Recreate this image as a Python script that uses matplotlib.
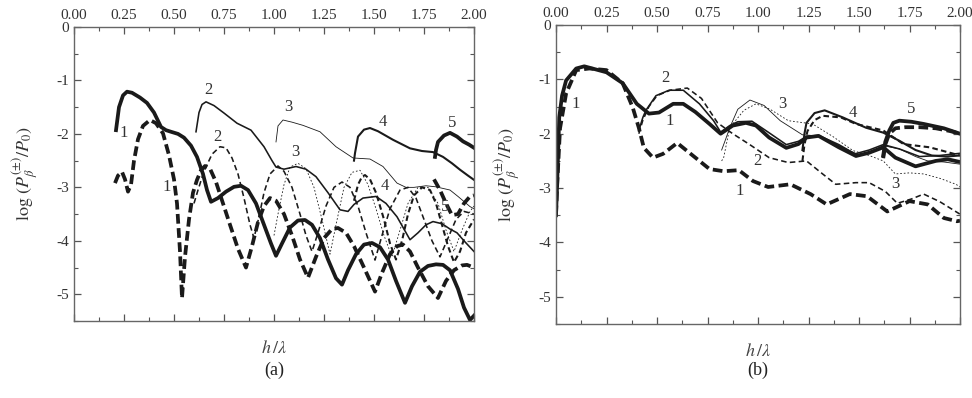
import matplotlib
matplotlib.use("Agg")
import matplotlib.pyplot as plt
from matplotlib.ticker import MultipleLocator

plt.rcParams['font.family'] = ['Liberation Serif', 'DejaVu Serif']
plt.rcParams['mathtext.fontset'] = 'stix'
plt.rcParams['axes.unicode_minus'] = False
plt.rcParams['lines.scale_dashes'] = False

# ---------- panel (a) ----------
a1p_x = [0.21, 0.225, 0.245, 0.265, 0.29, 0.33, 0.365, 0.40, 0.435, 0.46, 0.485, 0.52, 0.55, 0.585, 0.615, 0.645,
         0.665, 0.685, 0.72, 0.76, 0.80, 0.835, 0.87, 0.91, 0.95, 0.985, 1.01, 1.04, 1.08, 1.12, 1.155, 1.19, 1.23,
         1.27, 1.31, 1.34, 1.37, 1.41, 1.45, 1.49, 1.53, 1.57, 1.61, 1.655, 1.69, 1.73, 1.77, 1.81, 1.845, 1.88,
         1.92, 1.95, 1.98, 2.0]
a1p_y = [-1.93, -1.5, -1.28, -1.21, -1.23, -1.32, -1.42, -1.6, -1.87, -1.93, -1.96, -2.0, -2.07, -2.22, -2.43, -2.75,
         -3.05, -3.27, -3.2, -3.08, -2.99, -2.97, -3.05, -3.3, -3.7, -4.05, -4.28, -4.05, -3.75, -3.62, -3.61, -3.7,
         -3.95, -4.35, -4.7, -4.82, -4.55, -4.25, -4.07, -4.04, -4.12, -4.35, -4.75, -5.16, -4.85, -4.58, -4.47,
         -4.44, -4.45, -4.55, -4.9, -5.25, -5.48, -5.4]

a1m_x = [0.205, 0.22, 0.24, 0.255, 0.27, 0.285, 0.30, 0.32, 0.345, 0.38, 0.41, 0.445, 0.475, 0.50, 0.515, 0.53, 0.54,
         0.555, 0.575, 0.595, 0.615, 0.635, 0.655, 0.68, 0.71, 0.745, 0.78, 0.82, 0.86, 0.89, 0.92, 0.95, 0.98,
         1.01, 1.05, 1.09, 1.13, 1.17, 1.21, 1.25, 1.29, 1.32, 1.36, 1.40, 1.45, 1.505, 1.54, 1.58, 1.615, 1.645,
         1.68, 1.72, 1.77, 1.82, 1.86, 1.90, 1.94, 1.965, 2.0]
a1m_y = [-2.92, -2.78, -2.71, -2.85, -3.08, -2.95, -2.5, -2.1, -1.85, -1.74, -1.8, -1.99, -2.4, -2.85, -3.3, -4.2,
         -5.07, -4.3, -3.6, -3.1, -2.86, -2.68, -2.6, -2.65, -2.9, -3.3, -3.7, -4.15, -4.5, -4.1, -3.65, -3.35, -3.2,
         -3.25, -3.5, -3.9, -4.35, -4.69, -4.3, -3.95, -3.78, -3.76, -3.85, -4.1, -4.5, -4.95, -4.6, -4.25, -4.1,
         -4.07, -4.2, -4.5, -4.85, -5.07, -4.75, -4.55, -4.46, -4.45, -4.5]

a2p_x = [0.61, 0.625, 0.64, 0.66, 0.70, 0.75, 0.815, 0.885, 0.95, 0.99, 1.01, 1.05, 1.11, 1.16, 1.21, 1.27, 1.33,
         1.37, 1.40, 1.445, 1.51, 1.56, 1.615, 1.68, 1.72, 1.76, 1.795, 1.84, 1.88, 1.915, 1.95, 2.0]
a2p_y = [-1.96, -1.6, -1.45, -1.4, -1.47, -1.61, -1.8, -1.93, -2.24, -2.5, -2.62, -2.66, -2.61, -2.66, -2.8, -3.1,
         -3.42, -3.45, -3.32, -3.2, -3.17, -3.3, -3.55, -3.98, -3.85, -3.7, -3.64, -3.68, -3.78, -3.85, -4.0, -4.2]

a2m_x = [0.60, 0.62, 0.65, 0.69, 0.73, 0.76, 0.79, 0.82, 0.85, 0.88, 0.90, 0.925, 0.95, 0.98, 1.02, 1.05, 1.09,
         1.13, 1.16, 1.19, 1.22, 1.26, 1.30, 1.34, 1.38, 1.42, 1.46, 1.505, 1.54, 1.58, 1.63, 1.67, 1.71, 1.75,
         1.79, 1.83, 1.87, 1.91, 1.95, 2.0]
a2m_y = [-3.3, -3.05, -2.7, -2.38, -2.24, -2.26, -2.45, -2.75, -3.2, -3.7, -3.95, -3.55, -3.1, -2.75, -2.6, -2.7,
         -3.0, -3.5, -3.9, -4.2, -3.85, -3.35, -3.0, -2.9, -3.0, -3.35, -3.85, -4.36, -3.9, -3.4, -3.05, -3.0, -3.2,
         -3.6, -4.0, -4.3, -3.95, -3.6, -3.45, -3.5]

a3p_x = [1.01, 1.02, 1.045, 1.09, 1.145, 1.23, 1.31, 1.395, 1.48, 1.545, 1.615, 1.66, 1.7, 1.76, 1.81, 1.88, 1.92,
         1.98, 2.0]
a3p_y = [-2.15, -1.85, -1.74, -1.78, -1.84, -1.96, -2.24, -2.45, -2.47, -2.61, -2.92, -3.0, -3.0, -2.97, -2.99,
         -3.05, -3.17, -3.36, -3.4]

a3m_x = [1.0, 1.02, 1.05, 1.08, 1.12, 1.16, 1.2, 1.24, 1.28, 1.31, 1.35, 1.39, 1.43, 1.47, 1.51, 1.55, 1.59, 1.63,
         1.67, 1.72, 1.77, 1.82, 1.86, 1.9, 1.94, 1.98, 2.0]
a3m_y = [-3.9, -3.5, -2.95, -2.62, -2.55, -2.65, -3.0, -3.6, -4.25, -3.7, -3.0, -2.72, -2.68, -2.95, -3.4, -3.9,
         -4.3, -3.8, -3.3, -3.0, -3.0, -3.3, -3.8, -4.2, -3.8, -3.45, -3.35]

a4p_x = [1.40, 1.405, 1.42, 1.45, 1.48, 1.52, 1.595, 1.68, 1.74, 1.795, 1.845, 1.89, 1.93, 1.97, 2.0]
a4p_y = [-2.5, -2.36, -2.05, -1.92, -1.89, -1.95, -2.11, -2.27, -2.32, -2.34, -2.43, -2.55, -2.67, -2.78, -2.86]

a4m_x = [1.40, 1.42, 1.44, 1.455, 1.48, 1.51, 1.55, 1.58, 1.61, 1.64, 1.67, 1.70, 1.74, 1.78, 1.81, 1.84, 1.87,
         1.90, 1.93, 1.96, 2.0]
a4m_y = [-3.25, -2.95, -2.8, -2.77, -2.85, -3.1, -3.6, -4.05, -4.35, -4.0, -3.5, -3.15, -3.0, -3.05, -3.3, -3.7,
         -4.1, -4.4, -4.2, -3.85, -3.6]

a5p_x = [1.805, 1.81, 1.82, 1.85, 1.88, 1.915, 1.945, 1.975, 2.0]
a5p_y = [-2.43, -2.3, -2.15, -2.03, -1.98, -2.05, -2.14, -2.2, -2.26]

a5m_x = [1.80, 1.83, 1.86, 1.89, 1.92, 1.95, 1.98, 2.0]
a5m_y = [-2.85, -3.05, -3.3, -3.52, -3.5, -3.3, -3.17, -3.15]

a_lab_x = [0.25, 0.465, 0.67, 0.715, 1.07, 1.105, 1.545, 1.555, 1.89, 1.855]
a_lab_y = [-1.98, -2.99, -1.18, -2.05, -1.49, -2.33, -1.77, -2.98, -1.8, -3.37]
a_lab_t = ['1', '1', '2', '2', '3', '3', '4', '4', '5', '5']

# ---------- panel (b) ----------
b1p_x = [0.0, 0.005, 0.016, 0.03, 0.05, 0.1, 0.14, 0.25, 0.33, 0.4, 0.46, 0.51, 0.58, 0.63, 0.69, 0.76, 0.815,
         0.875, 0.94, 0.99, 1.055, 1.14, 1.2, 1.24, 1.3, 1.4, 1.485, 1.55, 1.62, 1.68, 1.78, 1.88, 1.94, 2.0]
b1p_y = [-3.5, -3.0, -1.7, -1.3, -1.02, -0.8, -0.76, -0.87, -1.07, -1.45, -1.63, -1.61, -1.45, -1.45, -1.6, -1.82,
         -2.0, -1.85, -1.8, -1.85, -2.07, -2.26, -2.19, -2.07, -2.04, -2.25, -2.41, -2.35, -2.25, -2.44, -2.6,
         -2.5, -2.47, -2.52]

b1m_x = [0.0, 0.005, 0.02, 0.05, 0.1, 0.165, 0.25, 0.33, 0.38, 0.41, 0.435, 0.48, 0.53, 0.6, 0.69, 0.76, 0.83,
         0.905, 0.975, 1.05, 1.16, 1.26, 1.34, 1.455, 1.54, 1.64, 1.75, 1.84, 1.92, 1.985, 2.0]
b1m_y = [-3.5, -3.0, -1.9, -1.26, -0.83, -0.8, -0.83, -1.07, -1.52, -1.89, -2.26, -2.44, -2.37, -2.17, -2.44, -2.65,
         -2.69, -2.67, -2.87, -2.98, -2.93, -3.11, -3.3, -3.11, -3.15, -3.43, -3.24, -3.3, -3.55, -3.61, -3.6]

b2p_x = [0.41, 0.43, 0.445, 0.495, 0.56, 0.63, 0.71, 0.78, 0.815, 0.86, 0.9, 0.97, 1.05, 1.14, 1.2, 1.24, 1.3,
         1.4, 1.48, 1.55, 1.62, 1.7, 1.8, 1.9, 2.0]
b2p_y = [-1.94, -1.7, -1.57, -1.3, -1.2, -1.2, -1.45, -1.76, -1.97, -1.85, -1.78, -1.77, -1.97, -2.2, -2.14, -2.05,
         -2.03, -2.2, -2.37, -2.3, -2.2, -2.28, -2.42, -2.4, -2.36]

b2m_x = [0.41, 0.43, 0.46, 0.5, 0.565, 0.65, 0.72, 0.8, 0.875, 0.955, 1.055, 1.15, 1.24, 1.32, 1.385, 1.485, 1.55,
         1.63, 1.69, 1.76, 1.82, 1.9, 2.0]
b2m_y = [-2.0, -1.75, -1.5, -1.3, -1.2, -1.16, -1.35, -1.8, -2.0, -2.19, -2.44, -2.53, -2.5, -2.74, -2.93, -2.9,
         -2.9, -3.06, -3.28, -3.2, -3.11, -3.25, -3.48]

b3p_x = [0.82, 0.84, 0.86, 0.9, 0.96, 1.03, 1.11, 1.22, 1.3, 1.4, 1.5, 1.56, 1.62, 1.7, 1.78, 1.84, 1.92, 2.0]
b3p_y = [-2.3, -2.1, -1.89, -1.55, -1.38, -1.48, -1.76, -2.02, -2.04, -2.22, -2.39, -2.33, -2.22, -2.28, -2.42,
         -2.5, -2.52, -2.56]

b3m_x = [0.82, 0.83, 0.86, 0.93, 0.99, 1.06, 1.15, 1.27, 1.37, 1.47, 1.55, 1.62, 1.68, 1.75, 1.82, 1.9, 1.98, 2.0]
b3m_y = [-2.5, -2.44, -1.89, -1.57, -1.45, -1.55, -1.76, -1.82, -2.05, -2.31, -2.4, -2.5, -2.74, -2.72, -2.74,
         -2.82, -2.93, -2.98]

b4p_x = [1.22, 1.23, 1.24, 1.28, 1.33, 1.42, 1.535, 1.62, 1.7, 1.78, 1.86, 1.93, 2.0]
b4p_y = [-2.3, -2.0, -1.8, -1.62, -1.57, -1.7, -1.89, -1.98, -2.13, -2.3, -2.4, -2.42, -2.4]

b4m_x = [1.22, 1.23, 1.245, 1.28, 1.32, 1.41, 1.485, 1.62, 1.72, 1.85, 1.98, 2.0]
b4m_y = [-2.5, -2.2, -1.95, -1.75, -1.67, -1.7, -1.82, -1.94, -2.19, -2.25, -2.38, -2.4]

b5p_x = [1.62, 1.63, 1.65, 1.67, 1.7, 1.76, 1.82, 1.92, 2.0]
b5p_y = [-2.4, -2.15, -1.94, -1.8, -1.76, -1.78, -1.82, -1.9, -2.0]

b5m_x = [1.62, 1.63, 1.65, 1.68, 1.73, 1.8, 1.88, 1.95, 2.0]
b5m_y = [-2.45, -2.2, -2.0, -1.9, -1.88, -1.88, -1.9, -1.95, -2.0]

b_lab_x = [0.095, 0.54, 0.565, 0.995, 0.91, 1.12, 1.68, 1.47, 1.76]
b_lab_y = [-1.45, -0.98, -1.76, -2.5, -3.05, -1.45, -2.93, -1.61, -1.54]
b_lab_t = ['1', '2', '1', '2', '1', '3', '3', '4', '5']

# line styles per mode: (width, dash pattern)
thick = 2.7
medium = 1.15
thin = 0.6
long_dash = (0, (7, 3.2))
med_dash = (0, (4, 2.4))
dots = (0, (1.2, 1.4))

fig = plt.figure(figsize=(9.72, 3.98), dpi=100)
axa = fig.add_axes([74 / 972, 1 - 321 / 398, 400 / 972, 294 / 398])
axb = fig.add_axes([556 / 972, 1 - 324 / 398, 404 / 972, 299 / 398])

col = '#1a1a1a'

axa.plot(a1p_x, a1p_y, color=col, lw=thick)
axa.plot(a1m_x, a1m_y, color=col, lw=thick, ls=long_dash)
axa.plot(a2p_x, a2p_y, color=col, lw=medium)
axa.plot(a2m_x, a2m_y, color=col, lw=medium, ls=med_dash)
axa.plot(a3p_x, a3p_y, color=col, lw=thin)
axa.plot(a3m_x, a3m_y, color=col, lw=thin, ls=dots)
axa.plot(a4p_x, a4p_y, color=col, lw=medium * 1.3)
axa.plot(a4m_x, a4m_y, color=col, lw=medium * 1.3, ls=med_dash)
axa.plot(a5p_x, a5p_y, color=col, lw=thick)
axa.plot(a5m_x, a5m_y, color=col, lw=thick, ls=long_dash)
for x, y, t in zip(a_lab_x, a_lab_y, a_lab_t):
    axa.text(x, y, t, fontsize=12, color='#333333', ha='center', va='center')

axb.plot(b1p_x, b1p_y, color=col, lw=thick)
axb.plot(b1m_x, b1m_y, color=col, lw=thick, ls=long_dash)
axb.plot(b2p_x, b2p_y, color=col, lw=medium)
axb.plot(b2m_x, b2m_y, color=col, lw=medium, ls=med_dash)
axb.plot(b3p_x, b3p_y, color=col, lw=thin)
axb.plot(b3m_x, b3m_y, color=col, lw=thin, ls=dots)
axb.plot(b4p_x, b4p_y, color=col, lw=medium * 1.3)
axb.plot(b4m_x, b4m_y, color=col, lw=medium * 1.3, ls=med_dash)
axb.plot(b5p_x, b5p_y, color=col, lw=thick)
axb.plot(b5m_x, b5m_y, color=col, lw=thick, ls=long_dash)
for x, y, t in zip(b_lab_x, b_lab_y, b_lab_t):
    axb.text(x, y, t, fontsize=12, color='#333333', ha='center', va='center')

ylab = r'$\mathrm{log}\ (P_{\beta}^{(\pm)}/P_{0})$'
for ax, tag, cx in [(axa, '(a)', 274), (axb, '(b)', 758)]:
    ax.set_xlim(0, 2.0)
    ax.set_ylim(-5.5, 0)
    ax.xaxis.set_major_locator(MultipleLocator(0.25))
    ax.xaxis.set_minor_locator(MultipleLocator(0.125))
    ax.yaxis.set_major_locator(MultipleLocator(1))
    ax.yaxis.set_minor_locator(MultipleLocator(0.5))
    ax.xaxis.set_major_formatter(plt.FuncFormatter(lambda v, p: '%.2f' % v))
    ax.yaxis.set_major_formatter(plt.FuncFormatter(lambda v, p: '%d' % round(v)))
    ax.tick_params(which='both', direction='in', top=True, right=True, bottom=True, left=True,
                   labeltop=True, labelbottom=False, colors='#555555', labelcolor='#333333')
    ax.tick_params(which='major', length=5, labelsize=11, width=0.9)
    ax.tick_params(which='minor', length=3, width=0.8)
    for s in ax.spines.values():
        s.set_color('#666666')
        s.set_linewidth(1.0)
    ax.set_xlabel(r'$h\,/\lambda$', fontsize=13, color='#444444', labelpad=14)
    ax.set_ylabel(ylab, fontsize=13, color='#333333')
    ax.yaxis.set_label_coords(-0.085, 0.5)
    fig.text(cx / 972, 1 - 370 / 398, tag, ha='center', va='center', fontsize=13, color='#222222')

fig.savefig('out.png', dpi=100)
